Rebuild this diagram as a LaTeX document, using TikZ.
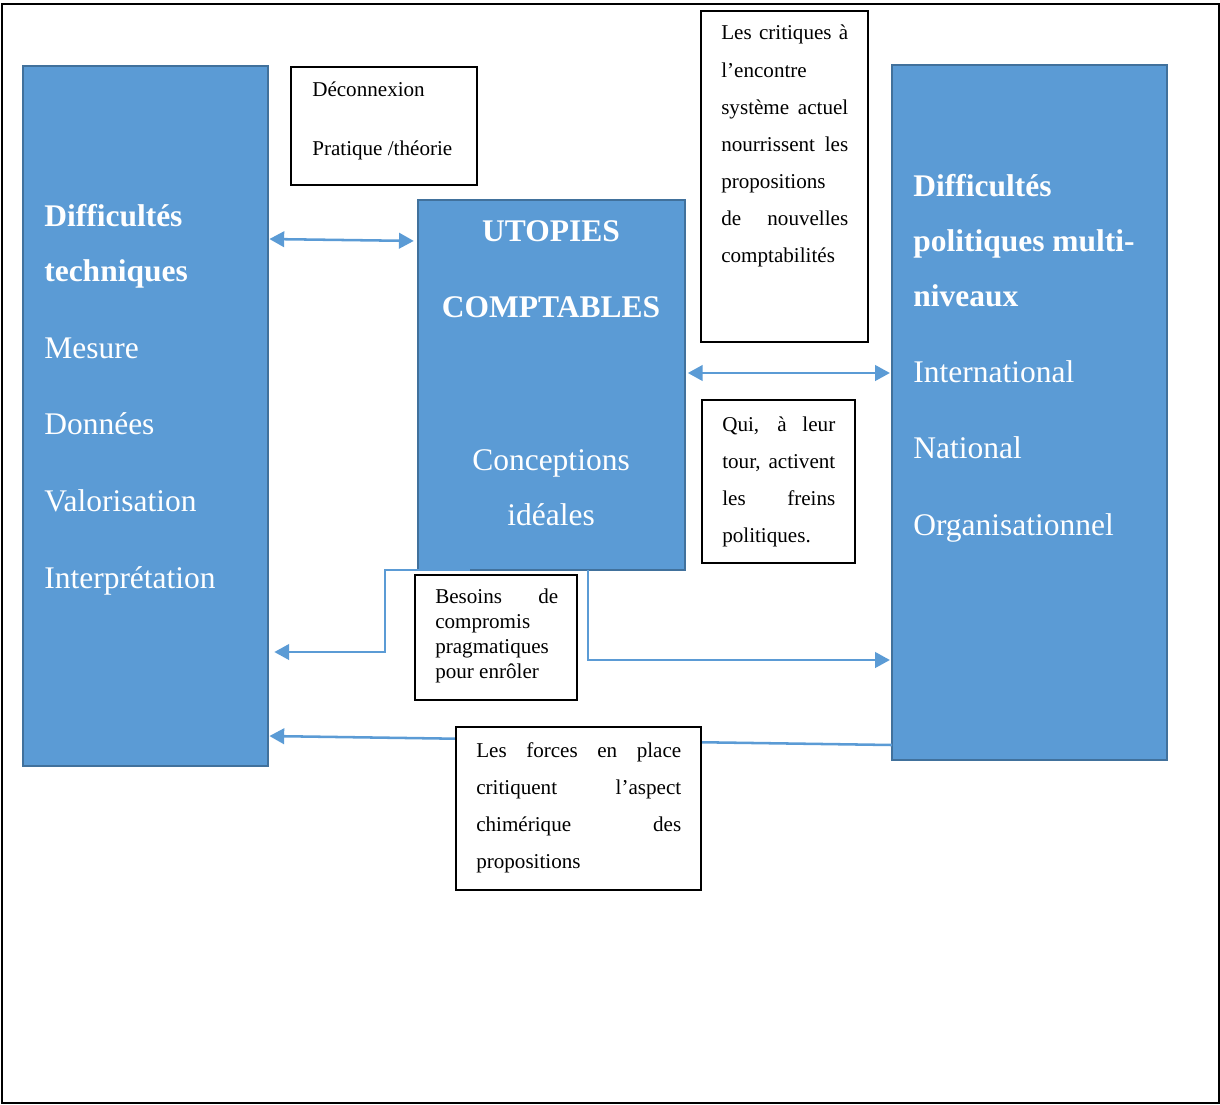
\documentclass[tikz,border=0pt]{standalone}
\usepackage{fontspec}
\setmainfont{Liberation Serif}
\usetikzlibrary{arrows.meta,positioning,calc}
\definecolor{boxblue}{HTML}{5B9BD5}
\definecolor{edgeblue}{HTML}{41719C}
\newlength{\pxu}
\setlength{\pxu}{0.025cm}
\newcommand{\justline}[2]{\makebox[#1\pxu][s]{#2}}
\tikzset{
bluebox/.style args={#1x#2}{draw=edgeblue,fill=boxblue,line width=1.8pt,minimum width=#1*0.025cm,minimum height=#2*0.025cm,anchor=north west,inner sep=0pt,outer sep=0pt},
txtbox/.style args={#1x#2}{draw,fill=white,line width=0.9pt,minimum width=#1*0.025cm,minimum height=#2*0.025cm,anchor=north west,inner sep=0pt,outer sep=0pt},
big/.style={text=white,font=\fontsize{22.4}{27}\selectfont,inner sep=0pt},
small/.style={font=\fontsize{15}{18}\selectfont,inner sep=0pt,anchor=base west},
link/.style={draw=boxblue,line width=1.8pt,>={Triangle[length=10.5pt,width=11pt]}},
}
\begin{document}
\begin{tikzpicture}[x=0.025cm,y=-0.025cm]
  \useasboundingbox (0,0) rectangle (1220,1104);
  \draw[line width=1.5pt] (2,4) rectangle (1219,1103);

  % blocs bleus
  \node[bluebox=245x700] (tech) at (23,66) {};
  \node[bluebox=267x370] (utop) at (418,200) {};
  \node[bluebox=275x695] (poli) at (892,65) {};
  \foreach \y/\t [count=\i] in {226/{\textbf{Difficultés}},281/{\textbf{techniques}},358/Mesure,434/Données,511/Valorisation,588/Interprétation}
    \node[big,anchor=base west] (tech\i) at (44,\y) {\t};
  \foreach \y/\t [count=\i] in {241/{\textbf{UTOPIES}},317/{\textbf{COMPTABLES}},470/Conceptions,525/idéales}
    \node[big,anchor=base] (utop\i) at (551,\y) {\t};
  \foreach \y/\t [count=\i] in {196/{\textbf{Difficultés}},251/{\textbf{politiques multi-}},306/{\textbf{niveaux}},382/International,458/National,535/Organisationnel}
    \node[big,anchor=base west] (poli\i) at (913,\y) {\t};

  % liens
  \draw[link,<->,shorten <=1pt,shorten >=3pt] (tech.east |- 0,239) -- (utop.west |- 0,241);
  \draw[link,<->,shorten <=2pt,shorten >=1.5pt] (utop.east |- 0,373) -- (poli.west |- 0,373);
  \draw[link,->,shorten >=4.5pt] (utop.south -| 470,0) -| (385,652) -- (tech.east |- 0,652);
  \draw[link,->,shorten >=1.5pt] (utop.south -| 588,0) |- (poli.west |- 0,660);
  \draw[link,->,shorten >=1pt] (poli.west |- 0,745) -- (tech.east |- 0,736);

  % encadres
  \node[txtbox=186x118] (decon) at (291,67) {};
  \node[txtbox=167x331] (crit) at (701,11) {};
  \node[txtbox=153x163] (qui) at (702,400) {};
  \node[txtbox=162x125] (besoins) at (415,575) {};
  \node[txtbox=245x163] (forces) at (456,727) {};
  \foreach \y/\t [count=\i] in {97/Déconnexion,155/{Pratique /théorie}}
    \node[small] (decon\i) at (312,\y) {\t};
  \foreach \y/\t [count=\i] in {40/{\justline{127}{Les critiques à}},77/{l’encontre},114/{\justline{127}{système actuel}},151/{\justline{127}{nourrissent les}},188/propositions,225/{\justline{127}{de nouvelles}},262/comptabilités}
    \node[small] (crit\i) at (721,\y) {\t};
  \foreach \y/\t [count=\i] in {431/{\justline{113}{Qui, à leur}},468/{\justline{113}{tour, activent}},505/{\justline{113}{les freins}},542/politiques.}
    \node[small] (qui\i) at (722,\y) {\t};
  \foreach \y/\t [count=\i] in {603/{\justline{123}{Besoins de}},628/compromis,653/pragmatiques,678/pour enrôler}
    \node[small] (besoins\i) at (435,\y) {\t};
  \foreach \y/\t [count=\i] in {757/{\justline{205}{Les forces en place}},794/{\justline{205}{critiquent l’aspect}},831/{\justline{205}{chimérique des}},868/propositions}
    \node[small] (forces\i) at (476,\y) {\t};
\end{tikzpicture}
\end{document}
